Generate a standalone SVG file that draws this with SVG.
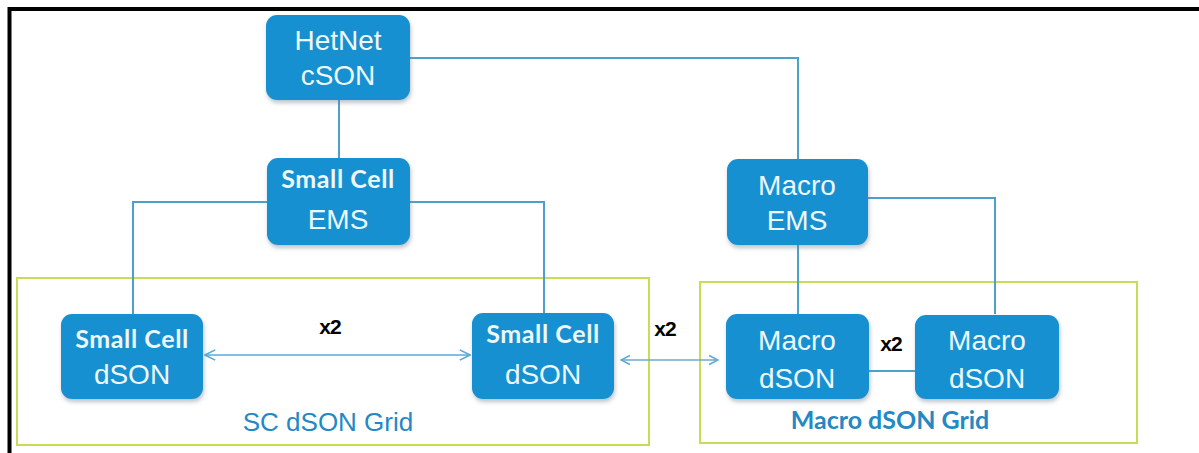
<svg xmlns="http://www.w3.org/2000/svg" width="1199" height="453" viewBox="0 0 1199 453">
<defs>
<filter id="sh" x="-10%" y="-10%" width="130%" height="140%"><feDropShadow dx="1" dy="3" stdDeviation="2" flood-color="#6a7f8a" flood-opacity="0.45"/></filter>
<marker id="ah" viewBox="0 0 10 10" refX="9" refY="5" markerWidth="8" markerHeight="8" orient="auto-start-reverse"><path d="M1,1 L9,5 L1,9" fill="none" stroke="#5aaad6" stroke-width="1.3"/></marker>
</defs>
<style>
.node{fill:#1590d0;filter:url(#sh)}
.t{fill:#eef8fc;font-family:"Liberation Sans",Arial,sans-serif;font-size:28px;text-anchor:middle}
.tb{fill:#eef8fc;font-family:Lato,"Open Sans",sans-serif;font-weight:bold;font-size:25px;letter-spacing:0.6px;text-anchor:middle}
.c{fill:none;stroke:#4f9fcb;stroke-width:2}
.grid{fill:none;stroke:#c9dc55;stroke-width:2}
.x2{font-family:"Liberation Sans",Arial,sans-serif;font-size:21px;font-weight:bold;letter-spacing:-1px;fill:#000;text-anchor:middle}
.gl{fill:#2488c4;text-anchor:middle}
</style>
<rect width="1199" height="453" fill="#fff"/>
<rect x="9.5" y="9" width="1195" height="460" fill="none" stroke="#000" stroke-width="4"/>
<g id="grids">
<rect class="grid" x="17" y="278" width="632" height="167"/>
<rect class="grid" x="700" y="282" width="437" height="161"/>
</g>
<g id="connectors">
<path class="c" d="M410,58 H798 V159"/>
<path class="c" d="M339,100 V158"/>
<path class="c" d="M267,202 H133 V314"/>
<path class="c" d="M410,202 H544 V313"/>
<path class="c" d="M868,198 H995 V314"/>
<path class="c" d="M798,245 V314"/>
<path class="c" d="M869,371 H915"/>
<line x1="205" y1="355" x2="470" y2="355" stroke="#5aaad6" stroke-width="1.6" marker-start="url(#ah)" marker-end="url(#ah)"/>
<line x1="621" y1="360" x2="718" y2="360" stroke="#6fa8c8" stroke-width="1.4" marker-start="url(#ah)" marker-end="url(#ah)"/>
</g>
<g id="hetnet-cson">
<rect class="node" x="266" y="15" width="144" height="85" rx="11"/>
<text class="t" x="338" y="50">HetNet</text>
<text class="t" x="338" y="85">cSON</text>
</g>
<g id="sc-ems">
<rect class="node" x="267" y="158" width="143" height="87" rx="11"/>
<text class="tb" x="338" y="188">Small Cell</text>
<text class="t" x="338" y="229">EMS</text>
</g>
<g id="macro-ems">
<rect class="node" x="727" y="159" width="141" height="86" rx="11"/>
<text class="t" x="797" y="195">Macro</text>
<text class="t" x="797" y="230">EMS</text>
</g>
<g id="sc-dson-1">
<rect class="node" x="61" y="314" width="142" height="85" rx="11"/>
<text class="tb" x="132" y="348">Small Cell</text>
<text class="t" x="132" y="384">dSON</text>
</g>
<g id="sc-dson-2">
<rect class="node" x="472" y="313" width="142" height="86" rx="11"/>
<text class="tb" x="543" y="343">Small Cell</text>
<text class="t" x="543" y="384">dSON</text>
</g>
<g id="macro-dson-1">
<rect class="node" x="726" y="314" width="143" height="85" rx="11"/>
<text class="t" x="797" y="350">Macro</text>
<text class="t" x="797" y="388">dSON</text>
</g>
<g id="macro-dson-2">
<rect class="node" x="915" y="315" width="144" height="84" rx="11"/>
<text class="t" x="987" y="350">Macro</text>
<text class="t" x="987" y="388">dSON</text>
</g>
<g id="labels">
<text class="x2" x="330" y="334">x2</text>
<text class="x2" x="665" y="336">x2</text>
<text class="x2" x="891" y="351">x2</text>
<text class="gl" x="328" y="431" font-family="Liberation Sans,Arial,sans-serif" font-size="26">SC dSON Grid</text>
<text class="gl" x="890" y="429" font-family="Lato,'Open Sans',sans-serif" font-weight="bold" font-size="25">Macro dSON Grid</text>
</g>
</svg>
